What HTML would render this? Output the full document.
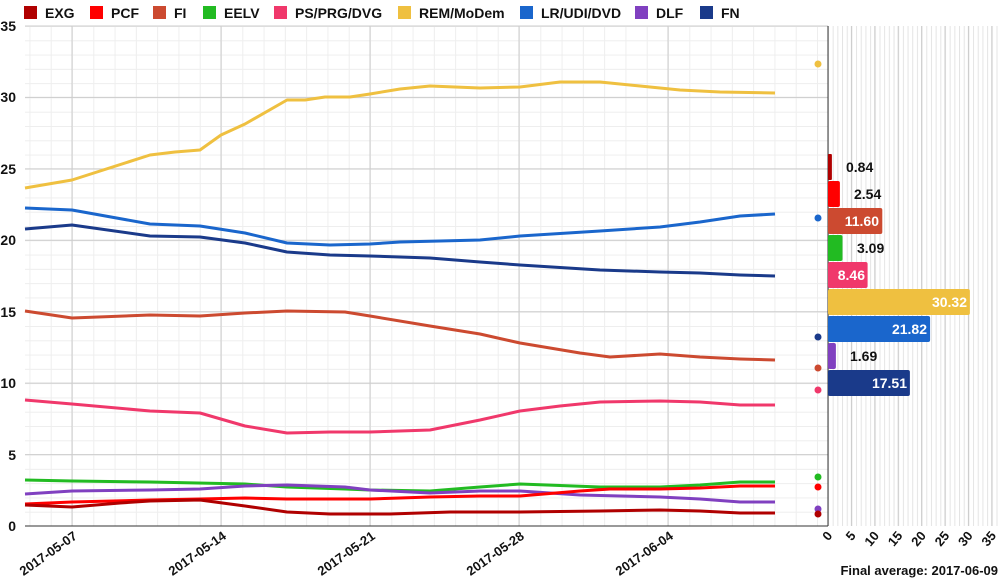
<!DOCTYPE html><html><head><style>body{margin:0;background:#fff}svg{display:block;font-family:"Liberation Sans",sans-serif}</style></head><body>
<svg width="1000" height="581" xmlns="http://www.w3.org/2000/svg">
<defs>
<pattern id="ph" x="0" y="26" width="1000" height="14.2857" patternUnits="userSpaceOnUse"><line x1="0" x2="1000" y1="0.5" y2="0.5" stroke="#eeeeee"/></pattern>
<pattern id="pv" x="72" y="0" width="21.2857" height="600" patternUnits="userSpaceOnUse"><line x1="0.5" x2="0.5" y1="0" y2="600" stroke="#eeeeee"/></pattern>
<pattern id="pb" x="828" y="0" width="4.68" height="600" patternUnits="userSpaceOnUse"><line x1="0.5" x2="0.5" y1="0" y2="600" stroke="#e4e4e4"/></pattern>
</defs>
<rect x="25" y="26" width="803" height="500" fill="url(#ph)"/>
<rect x="25" y="26" width="803" height="500" fill="url(#pv)"/>
<rect x="828" y="26" width="170" height="500" fill="url(#pb)"/>
<g stroke="#cccccc">
<line x1="25" x2="828" y1="26" y2="26"/><line x1="25" x2="828" y1="97.4" y2="97.4"/><line x1="25" x2="828" y1="168.9" y2="168.9"/><line x1="25" x2="828" y1="240.3" y2="240.3"/><line x1="25" x2="828" y1="311.7" y2="311.7"/><line x1="25" x2="828" y1="383.1" y2="383.1"/><line x1="25" x2="828" y1="454.6" y2="454.6"/>
<line x1="72" x2="72" y1="26" y2="526"/><line x1="221" x2="221" y1="26" y2="526"/><line x1="370" x2="370" y1="26" y2="526"/><line x1="519" x2="519" y1="26" y2="526"/><line x1="668" x2="668" y1="26" y2="526"/>
<line x1="851.4" x2="851.4" y1="26" y2="526"/><line x1="874.8" x2="874.8" y1="26" y2="526"/><line x1="898.2" x2="898.2" y1="26" y2="526"/><line x1="921.6" x2="921.6" y1="26" y2="526"/><line x1="945" x2="945" y1="26" y2="526"/><line x1="968.4" x2="968.4" y1="26" y2="526"/><line x1="991.8" x2="991.8" y1="26" y2="526"/>
</g>
<line x1="828" x2="828" y1="26" y2="526" stroke="#333"/><line x1="25" x2="828" y1="526" y2="526" stroke="#333"/>
<g fill="none" stroke-width="3" stroke-linejoin="round">
<polyline stroke="#efc040" points="25,188 72,180 150,155 175,152 200,150 221,135 245,124 287,100 305,100 325,97 350,97 370,94 400,89 430,86 480,88 520,87 560,82 600,82 640,86 680,90 720,92 775,93"/>
<polyline stroke="#1a66cc" points="25,208 72,210 150,224 200,226 245,233 287,243 330,245 370,244 400,242 480,240 520,236 600,231 660,227 700,222 740,216 775,214"/>
<polyline stroke="#1a3a8a" points="25,229 72,225 150,236 200,237 245,243 287,252 330,255 370,256 430,258 480,262 520,265 600,270 660,272 700,273 740,275 775,276"/>
<polyline stroke="#cc4a30" points="25,311 72,318 150,315 200,316 245,313 287,311 345,312 370,316 430,326 480,334 520,343 580,353 610,357 660,354 700,357 740,359 775,360"/>
<polyline stroke="#f0386b" points="25,400 72,404 150,411 200,413 245,426 287,433 330,432 370,432 430,430 480,420 520,411 560,406 600,402 660,401 700,402 740,405 775,405"/>
<polyline stroke="#22bb22" points="25,480 72,481 150,482 245,484 287,487 345,489 370,490 430,491 480,487 520,484 600,487 660,487 700,485 740,482 775,482"/>
<polyline stroke="#8040c0" points="25,494 72,491 150,490 200,489 245,486 287,485 345,487 370,490 430,493 480,491 520,491 580,495 660,497 700,499 740,502 775,502"/>
<polyline stroke="#ff0000" points="25,504 72,502 150,500 200,499 245,498 287,499 345,499 370,499 430,497 480,496 520,496 580,491 610,489 660,489 700,488 740,486 775,486"/>
<polyline stroke="#b00000" points="25,505 72,507 120,503 150,501 200,500 245,506 287,512 330,514 390,514 450,512 520,512 600,511 660,510 700,511 740,513 775,513"/>
</g>
<circle cx="818" cy="64" r="3.5" fill="#efc040"/><circle cx="818" cy="218" r="3.5" fill="#1a66cc"/><circle cx="818" cy="337" r="3.5" fill="#1a3a8a"/><circle cx="818" cy="368" r="3.5" fill="#cc4a30"/><circle cx="818" cy="390" r="3.5" fill="#f0386b"/><circle cx="818" cy="477" r="3.5" fill="#22bb22"/><circle cx="818" cy="487" r="3.5" fill="#ff0000"/><circle cx="818" cy="509" r="3.5" fill="#8040c0"/><circle cx="818" cy="514" r="3.5" fill="#b00000"/>
<rect x="828" y="154" width="3.9" height="26" rx="1" fill="#b00000"/>
<rect x="828" y="181" width="11.9" height="26" rx="2" fill="#ff0000"/>
<rect x="828" y="208" width="54.3" height="26" rx="2" fill="#cc4a30"/>
<rect x="828" y="235" width="14.5" height="26" rx="2" fill="#22bb22"/>
<rect x="828" y="262" width="39.6" height="26" rx="2" fill="#f0386b"/>
<rect x="828" y="289" width="141.9" height="26" rx="2" fill="#efc040"/>
<rect x="828" y="316" width="102.1" height="26" rx="2" fill="#1a66cc"/>
<rect x="828" y="343" width="7.9" height="26" rx="2" fill="#8040c0"/>
<rect x="828" y="370" width="81.9" height="26" rx="2" fill="#1a3a8a"/>
<g font-size="14" font-weight="bold" fill="#111">
<text x="846" y="172">0.84</text><text x="854" y="199">2.54</text><text x="857" y="253">3.09</text><text x="850" y="361">1.69</text>
</g>
<g font-size="14" font-weight="bold" fill="#fff" text-anchor="end">
<text x="879" y="226">11.60</text><text x="865" y="280">8.46</text><text x="967" y="307">30.32</text><text x="927" y="334">21.82</text><text x="907" y="388">17.51</text>
</g>
<g font-size="14" font-weight="bold" fill="#111" text-anchor="end">
<text x="16" y="31">35</text><text x="16" y="102">30</text><text x="16" y="174">25</text><text x="16" y="245">20</text><text x="16" y="317">15</text><text x="16" y="388">10</text><text x="16" y="460">5</text><text x="16" y="531">0</text>
</g>
<g font-size="13" font-weight="bold" fill="#111" text-anchor="end">
<text transform="translate(78,538) rotate(-35)">2017-05-07</text>
<text transform="translate(227,538) rotate(-35)">2017-05-14</text>
<text transform="translate(376,538) rotate(-35)">2017-05-21</text>
<text transform="translate(525,538) rotate(-35)">2017-05-28</text>
<text transform="translate(674,538) rotate(-35)">2017-06-04</text>
<text transform="translate(833,536) rotate(-50)">0</text>
<text transform="translate(856.4,536) rotate(-50)">5</text>
<text transform="translate(879.8,536) rotate(-50)">10</text>
<text transform="translate(903.2,536) rotate(-50)">15</text>
<text transform="translate(926.6,536) rotate(-50)">20</text>
<text transform="translate(950,536) rotate(-50)">25</text>
<text transform="translate(973.4,536) rotate(-50)">30</text>
<text transform="translate(996.8,536) rotate(-50)">35</text>
<text x="998" y="575">Final average: 2017-06-09</text>
</g>
<g font-size="14" font-weight="bold" fill="#111">
<rect x="24" y="6" width="13" height="13" fill="#b00000"/><text x="45" y="18">EXG</text>
<rect x="90" y="6" width="13" height="13" fill="#ff0000"/><text x="111" y="18">PCF</text>
<rect x="153" y="6" width="13" height="13" fill="#cc4a30"/><text x="174" y="18">FI</text>
<rect x="203" y="6" width="13" height="13" fill="#22bb22"/><text x="224" y="18">EELV</text>
<rect x="274" y="6" width="13" height="13" fill="#f0386b"/><text x="295" y="18">PS/PRG/DVG</text>
<rect x="398" y="6" width="13" height="13" fill="#efc040"/><text x="419" y="18">REM/MoDem</text>
<rect x="520" y="6" width="13" height="13" fill="#1a66cc"/><text x="541" y="18">LR/UDI/DVD</text>
<rect x="635" y="6" width="13" height="13" fill="#8040c0"/><text x="656" y="18">DLF</text>
<rect x="700" y="6" width="13" height="13" fill="#1a3a8a"/><text x="721" y="18">FN</text>
</g>
</svg></body></html>
